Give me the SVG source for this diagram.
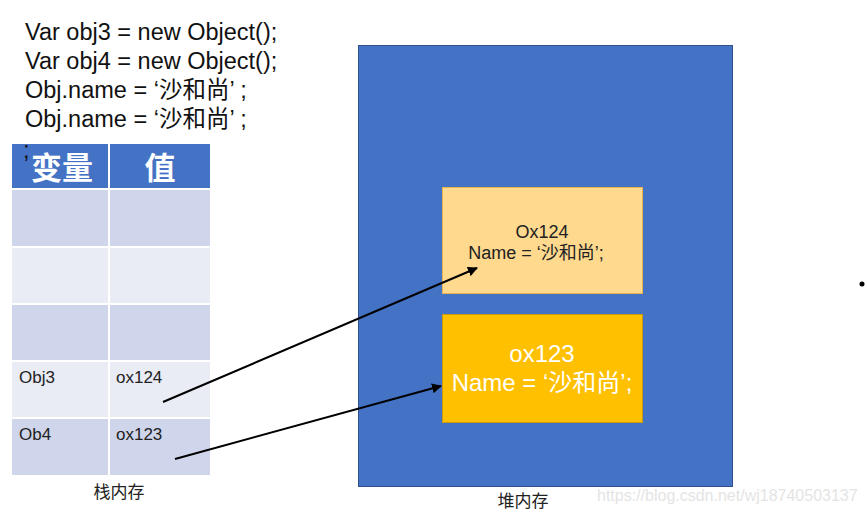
<svg xmlns="http://www.w3.org/2000/svg" width="867" height="514" viewBox="0 0 867 514">
<style>
.code{font-family:"Liberation Sans","Noto Sans CJK SC",sans-serif;font-size:23.5px;fill:#111}
.cell{font-family:"Liberation Sans","Noto Sans CJK SC",sans-serif;font-size:17px;fill:#222}
.hdr{font-family:"Noto Sans CJK SC",sans-serif;font-size:31px;font-weight:bold;fill:#fff}
.lbl{font-family:"Noto Sans CJK SC",sans-serif;font-size:17px;fill:#222}
.dark{fill:#CFD5EA}
.light{fill:#E9EBF5}
.conn{stroke:#000;stroke-width:2;fill:none;marker-end:url(#ah)}
</style>
<defs>
<marker id="ah" viewBox="0 0 10 10" refX="9" refY="5" markerWidth="5" markerHeight="5" orient="auto" markerUnits="strokeWidth">
<path d="M0,0 L10,5 L0,10 z" fill="#000"/>
</marker>
</defs>
<rect width="867" height="514" fill="#fff"/>
<g id="code">
<text class="code" x="25" y="40">Var obj3 = new Object();</text>
<text class="code" x="25" y="69">Var obj4 = new Object();</text>
<text class="code" x="25" y="98">Obj.name = ‘沙和尚’ ;</text>
<text class="code" x="25" y="127">Obj.name = ‘沙和尚’ ;</text>
</g>
<g id="stack-table">
<rect x="12" y="144" width="198" height="331" fill="#fff"/>
<rect x="12" y="144" width="96" height="44" fill="#4472C4"/>
<rect x="110" y="144" width="100" height="44" fill="#4472C4"/>
<rect class="dark" x="12" y="190" width="96" height="56"/>
<rect class="dark" x="110" y="190" width="100" height="56"/>
<rect class="light" x="12" y="248" width="96" height="55"/>
<rect class="light" x="110" y="248" width="100" height="55"/>
<rect class="dark" x="12" y="305" width="96" height="55"/>
<rect class="dark" x="110" y="305" width="100" height="55"/>
<rect class="light" x="12" y="362" width="96" height="55"/>
<rect class="light" x="110" y="362" width="100" height="55"/>
<rect class="dark" x="12" y="419" width="96" height="56"/>
<rect class="dark" x="110" y="419" width="100" height="56"/>
<text class="hdr" x="62" y="179" text-anchor="middle">变量</text>
<text class="hdr" x="160" y="179" text-anchor="middle">值</text>
<text class="cell" x="19" y="383">Obj3</text>
<text class="cell" x="116" y="383">ox124</text>
<text class="cell" x="19" y="440">Ob4</text>
<text class="cell" x="116" y="440">ox123</text>
<text class="lbl" x="119" y="498" text-anchor="middle">栈内存</text>
</g>
<text class="code" x="23" y="158">;</text>
<g id="heap">
<rect x="358.5" y="45.5" width="374" height="441" fill="#4472C4" stroke="#2F528F" stroke-width="1"/>
<text class="lbl" x="523" y="507" text-anchor="middle">堆内存</text>
</g>
<g id="obj124">
<rect x="442.5" y="187.5" width="200" height="106" fill="#FFD98E" stroke="#E8B450" stroke-width="1"/>
<text x="542" y="238" text-anchor="middle" font-family="Liberation Sans,Noto Sans CJK SC,sans-serif" font-size="18" fill="#222">Ox124</text>
<text x="536" y="259" text-anchor="middle" font-family="Liberation Sans,Noto Sans CJK SC,sans-serif" font-size="18" fill="#222">Name = ‘沙和尚’;</text>
</g>
<g id="obj123">
<rect x="442.5" y="314.5" width="200" height="108" fill="#FFC000" stroke="#C99A10" stroke-width="1"/>
<text x="542" y="362" text-anchor="middle" font-family="Liberation Sans,Noto Sans CJK SC,sans-serif" font-size="24" fill="#fff">ox123</text>
<text x="542" y="391" text-anchor="middle" font-family="Liberation Sans,Noto Sans CJK SC,sans-serif" font-size="24" fill="#fff">Name = ‘沙和尚’;</text>
</g>
<g id="connectors">
<line class="conn" x1="163" y1="402" x2="477" y2="268"/>
<line class="conn" x1="175" y1="459" x2="441" y2="386"/>
</g>
<circle cx="862" cy="284" r="2.5" fill="#000"/>
<text x="597" y="501" font-family="Liberation Sans,sans-serif" font-size="16" fill="#E4E4E4">https://blog.csdn.net/wj18740503137</text>
</svg>
